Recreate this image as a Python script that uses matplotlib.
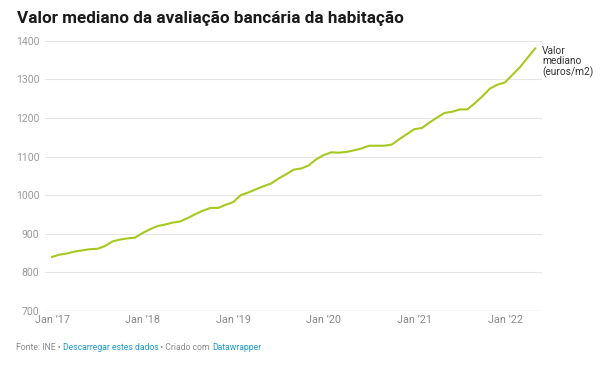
import matplotlib
matplotlib.use("Agg")
import matplotlib.pyplot as plt
import numpy as np

plt.rcParams['font.family'] = ['Roboto', 'DejaVu Sans']

title = "Valor mediano da avaliação bancária da habitação"
series_label = "Valor\nmediano\n(euros/m2)"
values = [840, 846, 849, 854, 857, 860, 861, 868, 880, 885, 888, 890,
          902, 912, 920, 924, 929, 932, 941, 951, 960, 967, 967, 975,
          982, 1000, 1007, 1015, 1023, 1030, 1043, 1054, 1066, 1069, 1077, 1093,
          1104, 1111, 1110, 1112, 1116, 1121, 1128, 1128, 1128, 1131, 1145, 1158,
          1171, 1174, 1188, 1201, 1213, 1216, 1222, 1222, 1238, 1256, 1276, 1286,
          1292, 1312, 1332, 1356, 1380]
xtick_pos = [0, 12, 24, 36, 48, 60]
xtick_labels = ["Jan \u201917", "Jan \u201918", "Jan \u201919", "Jan \u201920", "Jan \u201921", "Jan \u201922"]
yticks = [700, 800, 900, 1000, 1100, 1200, 1300, 1400]

W, H = 600, 370
fig = plt.figure(figsize=(6, 3.7), dpi=100)
ax = fig.add_axes([45 / W, (H - 311) / H, (542 - 45) / W, (311 - 40.7) / H])

x = np.arange(len(values))
ax.plot(x, values, color='#a5c91f', lw=1.5, clip_on=False, solid_joinstyle='round')
ax.set_xlim(-0.93, 64.9)
ax.set_ylim(700, 1400)

for s in ax.spines.values():
    s.set_visible(False)
ax.set_yticks(yticks)
ax.set_yticklabels([str(v) for v in yticks])
ax.grid(axis='y', color='#e6e6e6', lw=0.8)
ax.axhline(700, color='#d6d6d6', lw=0.9, zorder=1)
ax.set_xticks(xtick_pos)
ax.set_xticklabels(xtick_labels)
ax.tick_params(axis='y', length=0, pad=4, labelsize=7.5, labelcolor='#9a9a9a')
ax.tick_params(axis='x', length=0, pad=3, labelsize=7.8, labelcolor='#8a8a8a')
for lab in ax.get_yticklabels():
    lab.set_horizontalalignment('right')

ax.annotate(series_label, xy=(x[-1], values[-1]), xytext=(5, 2), textcoords='offset points',
            fontsize=7.3, color='#333333', va='top', ha='left', linespacing=1.05,
            annotation_clip=False)

fig.text(17 / W, 1 - 22.7 / H, title, fontsize=12.3, fontweight='bold', color='#1a1a1a',
         ha='left', va='baseline')

gray = '#8a8a8a'
blue = '#1d9ccc'
fs = 6.2
parts = [("Fonte: INE \u2022 ", gray), ("Descarregar estes dados", blue),
         (" \u2022 Criado com ", gray), ("Datawrapper", blue)]
t = fig.text(16 / W, 1 - 350 / H, parts[0][0], fontsize=fs, color=parts[0][1],
             ha='left', va='baseline')
for txt, col in parts[1:]:
    t = plt.annotate(txt, xy=(1, 0), xycoords=t, xytext=(0, 0), textcoords='offset points',
                     fontsize=fs, color=col, ha='left', va='bottom', annotation_clip=False)

fig.savefig('out.png', dpi=100, facecolor='white')
